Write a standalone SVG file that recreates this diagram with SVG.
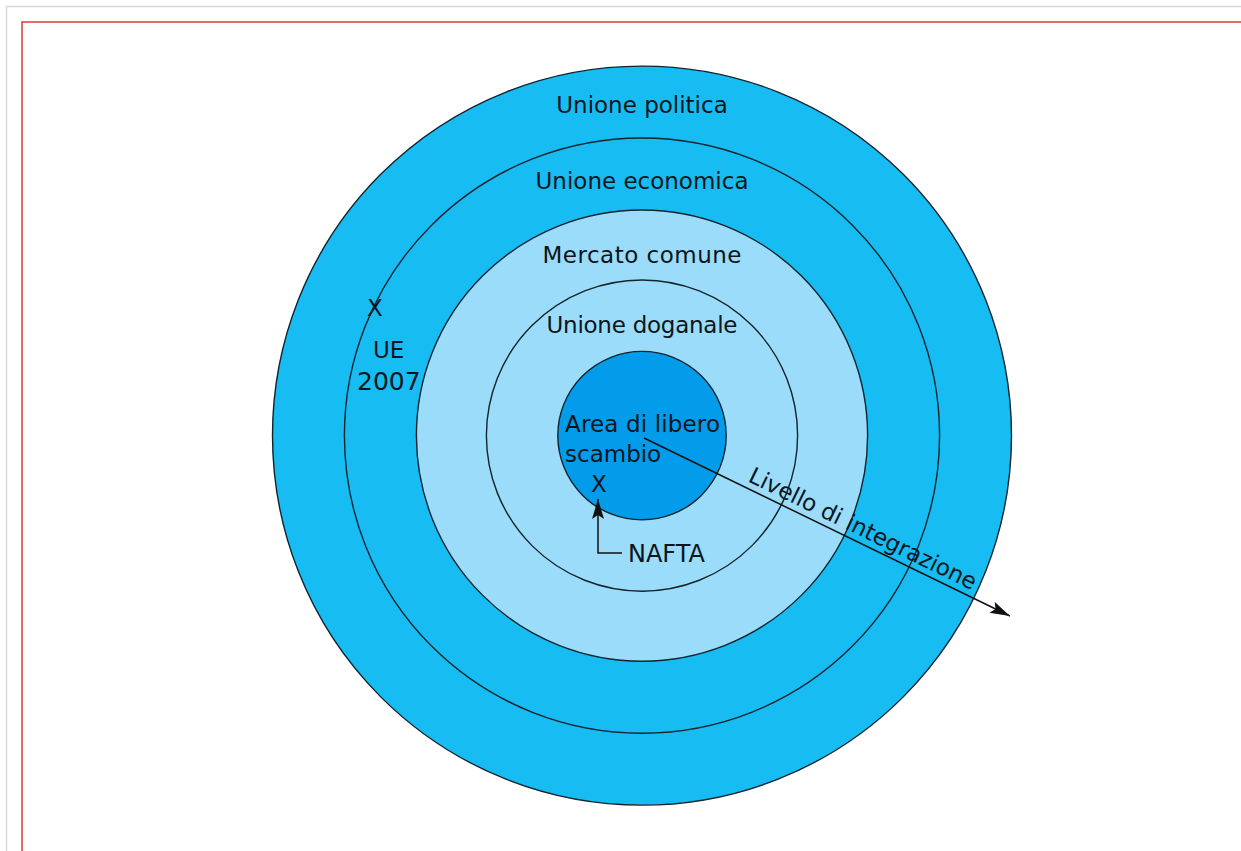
<svg xmlns="http://www.w3.org/2000/svg" width="1241" height="851" viewBox="0 0 1241 851">
  <defs>
    <style>
      .ring { stroke: #14232c; stroke-width: 1.4; }
      .outer { fill: #17bcf2; }
      .light { fill: #9adcf9; }
      .core { fill: #029cea; }
      .lbl { font-family: "DejaVu Sans", "Noto Sans", sans-serif; font-size: 23px; fill: #0c151b; }
      .mid { text-anchor: middle; }
      .conn { stroke: #111; stroke-width: 1.5; fill: none; }
    </style>
    <marker id="head" viewBox="0 0 20 12" refX="20" refY="6" markerWidth="20" markerHeight="12" markerUnits="userSpaceOnUse" orient="auto">
      <path d="M0,0 L20,6 L0,12 L4,6 Z" fill="#111"/>
    </marker>
  </defs>

  <!-- page frame -->
  <rect x="0" y="0" width="1241" height="851" fill="#ffffff"/>
  <path d="M6.5,851 V6.5 H1241" fill="none" stroke="#d8d8d8" stroke-width="1.5"/>
  <rect x="22" y="22" width="1300" height="900" fill="none" stroke="#e04646" stroke-width="1.6"/>

  <!-- concentric levels -->
  <g id="unione-politica">
    <circle class="ring outer" cx="642" cy="435.6" r="369.5"/>
    <text class="lbl mid" x="642" y="113">Unione politica</text>
  </g>
  <g id="unione-economica">
    <circle class="ring outer" cx="642" cy="435.6" r="297.6"/>
    <text class="lbl mid" x="642" y="189" textLength="213">Unione economica</text>
  </g>
  <g id="mercato-comune">
    <circle class="ring light" cx="642" cy="435.6" r="225.6"/>
    <text class="lbl mid" x="642" y="263" textLength="199">Mercato comune</text>
  </g>
  <g id="unione-doganale">
    <circle class="ring light" cx="642" cy="435.6" r="155.6"/>
    <text class="lbl mid" x="642" y="333" textLength="191">Unione doganale</text>
  </g>
  <g id="area-libero-scambio">
    <circle class="ring core" cx="642" cy="435.6" r="84.2"/>
    <text class="lbl" x="565" y="432" textLength="155">Area di libero</text>
    <text class="lbl" x="565" y="462">scambio</text>
  </g>

  <!-- markers -->
  <g id="ue">
    <text class="lbl" x="367" y="316">X</text>
    <text class="lbl" x="373" y="358">UE</text>
    <text class="lbl" x="357" y="390" style="font-size:25px">2007</text>
  </g>
  <g id="nafta">
    <text class="lbl" x="591" y="492">X</text>
    <text class="lbl" x="628" y="562" style="font-size:24px">NAFTA</text>
  </g>

  <!-- connectors -->
  <g id="connectors">
    <path class="conn" d="M622,553 H598 V499" marker-end="url(#head)"/>
    <path class="conn" d="M644,438 L1010,616" marker-end="url(#head)"/>
    <text class="lbl" x="0" y="0" transform="translate(747,481) rotate(25.9)" textLength="250">Livello di integrazione</text>
  </g>
</svg>
